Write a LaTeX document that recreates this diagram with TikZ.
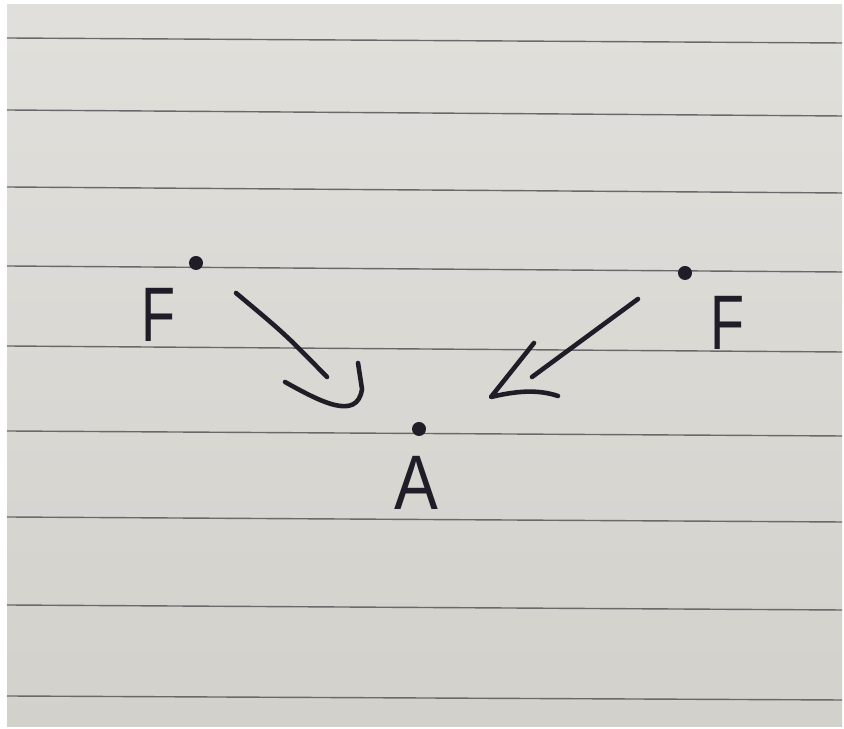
\documentclass[tikz,border=0pt]{standalone}
\usepackage{fontspec}
\setmainfont{Liberation Sans}
\definecolor{paper}{RGB}{219,218,213}
\definecolor{paperdark}{RGB}{210,209,204}
\definecolor{rule}{RGB}{105,105,105}
\definecolor{ink}{RGB}{32,28,40}
\tikzset{
  hand/.style={ink, line width=2.6pt, line cap=round, line join=round},
  point/.style={circle, fill=ink, inner sep=0pt, minimum size=0.28cm},
  letter/.style={ink, inner sep=0pt, font=\fontsize{44}{44}\selectfont}
}
\begin{document}
\begin{tikzpicture}
\useasboundingbox (0,0) rectangle (16.88,14.58);
\fill[white] (0,0) rectangle (16.88,14.58);
\shade[top color=paper!85!white, bottom color=paperdark] (0.14,0.04) rectangle (16.84,14.48);
\foreach \yl/\yr in {13.82/13.72, 12.38/12.26, 10.84/10.72, 9.26/9.14, 7.66/7.54,
                     5.96/5.86, 4.24/4.14, 2.48/2.38, 0.66/0.58}
  \draw[rule, line width=0.8pt] (0.14,\yl) -- (16.84,\yr);

\node[point] (pl) at (3.92,9.32) {};
\node[point] (pr) at (13.70,9.12) {};
\node[point] (pa) at (8.38,6.00) {};
\node[letter, xscale=0.72] (fl) at (3.18,8.28) {F};
\node[letter, xscale=0.72] (fr) at (14.54,8.12) {F};
\node[letter, xscale=0.85] (la) at (8.32,4.92) {A};

\coordinate (s1) at (4.72,8.72);
\coordinate (e1) at (6.54,7.04);
\coordinate (s2) at (12.76,8.60);
\coordinate (e2) at (10.64,7.04);

\draw[hand] (s1) .. controls (5.7,7.9) .. (e1);
\draw[hand] (5.70,6.94) .. controls (6.4,6.55) and (7.15,6.15) .. (7.24,6.80) -- (7.16,7.32);
\draw[hand] (s2) -- (e2);
\draw[hand] (10.68,7.72) -- (9.82,6.64) .. controls (10.4,6.78) and (10.8,6.78) .. (11.16,6.66);
\end{tikzpicture}
\end{document}
